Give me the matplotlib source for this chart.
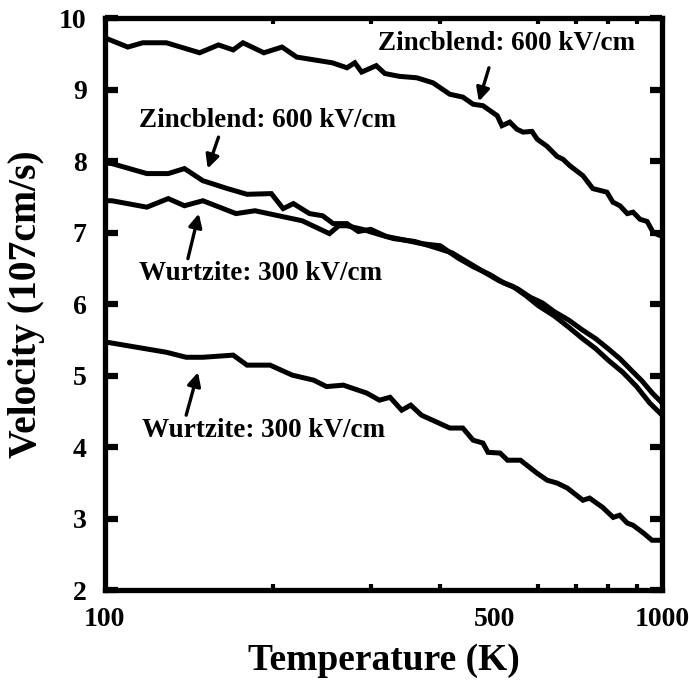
import matplotlib.pyplot as plt
from matplotlib.ticker import FixedLocator, NullFormatter

plt.rcParams['font.family'] = ['Liberation Serif', 'DejaVu Serif']
plt.rcParams['font.weight'] = 'bold'

# Zincblende, 600 kV/cm (upper curve)
zb_top_t = [100, 110, 117, 129, 148, 160, 170, 177, 193, 208, 221, 256, 272, 281, 289, 307,
            318, 338, 363, 388, 416, 439, 458, 477, 506, 516, 533, 549, 563, 584, 597, 622,
            648, 664, 683, 721, 751, 796, 816, 840, 866, 887, 913, 940, 963, 980, 1000]
zb_top_v = [9.73, 9.60, 9.66, 9.66, 9.52, 9.63, 9.56, 9.66, 9.52, 9.60, 9.46, 9.38, 9.31, 9.38,
            9.25, 9.34, 9.23, 9.19, 9.17, 9.10, 8.94, 8.90, 8.80, 8.78, 8.64, 8.50, 8.55, 8.45,
            8.41, 8.42, 8.31, 8.21, 8.07, 8.03, 7.94, 7.80, 7.62, 7.57, 7.43, 7.38, 7.27, 7.29,
            7.19, 7.16, 7.01, 6.98, 6.95]

# Zincblende, 600 kV/cm (lower curve)
zb_low_t = [100, 103, 119, 130, 139, 150, 166, 180, 199, 209, 218, 233, 246, 257, 272,
            285, 300, 320, 345, 370, 400, 430, 460, 490, 520, 550, 580, 610, 640, 680,
            720, 760, 800, 840, 880, 920, 960, 1000]
zb_low_v = [7.98, 7.97, 7.83, 7.83, 7.90, 7.73, 7.62, 7.54, 7.55, 7.34, 7.41, 7.27, 7.24,
            7.13, 7.13, 7.02, 7.05, 6.95, 6.90, 6.85, 6.82, 6.65, 6.52, 6.42, 6.30, 6.22,
            6.10, 6.02, 5.90, 5.78, 5.64, 5.52, 5.38, 5.24, 5.08, 4.93, 4.76, 4.62]

# Wurtzite, 300 kV/cm (upper curve)
wz_top_t = [100, 103, 119, 130, 139, 150, 172, 186, 205, 226, 253, 263, 272,
            290, 310, 330, 360, 390, 420, 450, 480, 510, 540, 570, 600, 640, 680,
            720, 760, 800, 850, 900, 950, 1000]
wz_top_v = [7.45, 7.45, 7.36, 7.48, 7.38, 7.45, 7.27, 7.31, 7.24, 7.17, 6.99, 7.10, 7.10,
            7.05, 6.98, 6.92, 6.88, 6.80, 6.72, 6.58, 6.45, 6.33, 6.25, 6.12, 5.98, 5.84,
            5.68, 5.52, 5.38, 5.22, 5.05, 4.85, 4.62, 4.45]

# Wurtzite, 300 kV/cm (lower curve)
wz_low_t = [100, 101, 129, 140, 150, 170, 180, 198, 217, 237, 250, 268, 295, 311, 325, 341,
            354, 370, 416, 439, 458, 477, 487, 512, 528, 557, 596, 622, 648, 676, 721, 741,
            782, 817, 839, 866, 887, 926, 959, 980, 1000]
wz_low_v = [5.47, 5.47, 5.33, 5.26, 5.26, 5.29, 5.15, 5.15, 5.01, 4.94, 4.85, 4.87, 4.76,
            4.66, 4.70, 4.52, 4.59, 4.45, 4.27, 4.27, 4.10, 4.06, 3.93, 3.92, 3.82, 3.82,
            3.64, 3.54, 3.50, 3.43, 3.26, 3.29, 3.16, 3.02, 3.05, 2.94, 2.91, 2.80, 2.70,
            2.70, 2.70]

label_zb = 'Zincblend: 600 kV/cm'
label_wz = 'Wurtzite: 300 kV/cm'

fig = plt.figure(figsize=(6.89, 6.84), dpi=100)
ax = fig.add_axes([0.152, 0.137, 0.809, 0.836])

for t, v in [(zb_top_t, zb_top_v), (zb_low_t, zb_low_v),
             (wz_top_t, wz_top_v), (wz_low_t, wz_low_v)]:
    ax.plot(t, v, color='black', lw=3.6, solid_joinstyle='miter')

ax.set_xscale('log')
ax.set_xlim(100, 1000)
ax.set_ylim(2, 10)

ax.xaxis.set_major_locator(FixedLocator([100, 500, 1000]))
ax.xaxis.set_major_formatter(plt.FixedFormatter(['100', '500', '1000']))
ax.xaxis.set_minor_locator(FixedLocator([200, 300, 400, 600, 700, 800, 900]))
ax.xaxis.set_minor_formatter(NullFormatter())
ax.set_yticks(range(2, 11))

ax.tick_params(axis='both', which='both', direction='in', top=True, right=True)
ax.tick_params(axis='x', which='major', length=0, labelsize=20, pad=12)
ax.tick_params(axis='x', which='minor', length=4, width=3)
ax.tick_params(axis='y', which='major', length=9, width=4.5, labelsize=20, pad=13)

for sp in ax.spines.values():
    sp.set_linewidth(3.8)

ax.set_xlabel('Temperature (K)', fontsize=27, fontweight='bold', labelpad=8)
ax.set_ylabel('Velocity (107cm/s)', fontsize=28.5, fontweight='bold', labelpad=10)

arrow = dict(arrowstyle='-|>', color='black', lw=2.4, mutation_scale=20, shrinkA=0, shrinkB=0)
ax.annotate('', xy=(469, 8.84), xytext=(489, 9.31), arrowprops=arrow)
ax.annotate('', xy=(153, 7.90), xytext=(160, 8.34), arrowprops=arrow)
ax.annotate('', xy=(147.5, 7.27), xytext=(141, 6.64), arrowprops=arrow)
ax.annotate('', xy=(147, 5.05), xytext=(140, 4.45), arrowprops=arrow)

ax.text(309, 9.65, label_zb, fontsize=19.5, fontweight='bold', va='center', ha='left')
ax.text(115, 8.57, label_zb, fontsize=19.5, fontweight='bold', va='center', ha='left')
ax.text(115, 6.43, label_wz, fontsize=19.5, fontweight='bold', va='center', ha='left')
ax.text(116.5, 4.24, label_wz, fontsize=19.5, fontweight='bold', va='center', ha='left')

fig.savefig('out.png', dpi=100)
